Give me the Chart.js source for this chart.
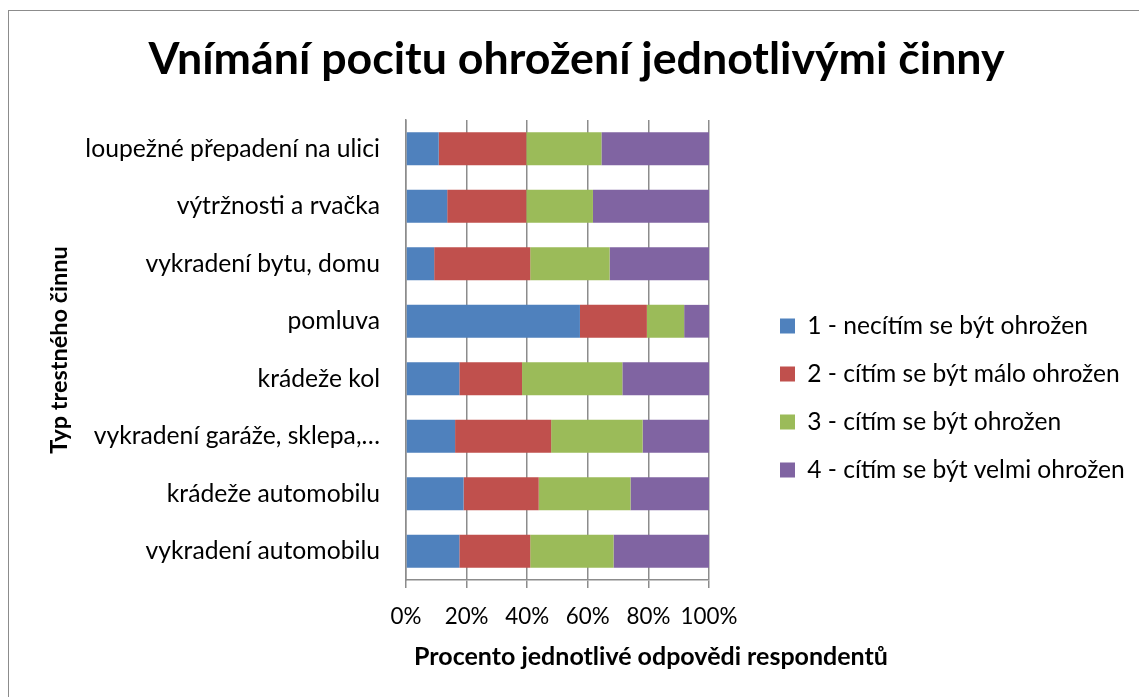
<!DOCTYPE html>
<html><head><meta charset="utf-8">
<script src="https://cdn.jsdelivr.net/npm/chart.js@4.4.1/dist/chart.umd.min.js"></script>
<style>
html,body{margin:0;padding:0;background:#fff;overflow:hidden;width:1139px;height:697px}
#frame{position:absolute;left:8px;top:10px;width:1200px;height:800px;border:1px solid #8c8c8c}
#wrap{position:absolute;left:0;top:0;width:1139px;height:697px}
</style></head><body>
<div id="frame"></div>
<div id="wrap"><canvas id="c" width="1139" height="697"></canvas></div>
<script>
const categories = [
  'loupežné přepadení na ulici',
  'výtržnosti a rvačka',
  'vykradení bytu, domu',
  'pomluva',
  'krádeže kol',
  'vykradení garáže, sklepa,…',
  'krádeže automobilu',
  'vykradení automobilu'
];
const seriesNames = [
  '1 - necítím se být ohrožen',
  '2 - cítím se být málo ohrožen',
  '3 - cítím se být ohrožen',
  '4 - cítím se být velmi ohrožen'
];
const level1 = [10.8, 13.6, 9.3, 57.4, 17.6, 16.2, 19.0, 17.6];
const level2 = [28.9, 26.1, 31.7, 22.1, 20.7, 31.7, 24.8, 23.4];
const level3 = [24.8, 22.0, 26.2, 12.3, 33.1, 30.2, 30.3, 27.5];
const level4 = [35.5, 38.3, 32.8, 8.2, 28.6, 21.9, 25.9, 31.5];
const xTicks = ['0%', '20%', '40%', '60%', '80%', '100%'];
const chartTitle = 'Vnímání pocitu ohrožení jednotlivými činny';
const xTitle = 'Procento jednotlivé odpovědi respondentů';
const yTitle = 'Typ trestného činnu';

const colors = ['#4F81BD', '#C0504D', '#9BBB59', '#8064A2'];
const seriesData = [level1, level2, level3, level4];

const FONT = 'Lato';
const TS = 44.7, LS = 24.6, TK = 24.7, XT = 22.4, AX = 25, AY = 23.5;
const X_TITLE_CENTER = 651;

const layoutTweaks = {
  id: 'layoutTweaks',
  afterInit(chart) {
    const lg = chart.legend;
    const f = lg.fit;
    lg.fit = function () { f.call(this); this.width = 430; };
  },
  afterLayout(chart) {
    const lg = chart.legend;
    const pad = lg.options.labels.padding;
    lg.left = 780 - pad; lg.right = chart.width;
    lg.top = 326 - pad - LS / 2; lg.bottom = chart.height;
    const sx = chart.scales.x;
    if (sx && !sx._titleWrapped) {
      const orig = sx.drawTitle;
      sx.drawTitle = function () {
        const l = this.left, r = this.right;
        this.left = X_TITLE_CENTER - 270; this.right = X_TITLE_CENTER + 270;
        orig.call(this);
        this.left = l; this.right = r;
      };
      sx._titleWrapped = true;
    }
  }
};

new Chart(document.getElementById('c'), {
  type: 'bar',
  data: {
    labels: categories,
    datasets: seriesNames.map((n, i) => ({
      label: n, data: seriesData[i], backgroundColor: colors[i],
      borderWidth: 0, barPercentage: 0.57, categoryPercentage: 1
    }))
  },
  options: {
    indexAxis: 'y', responsive: false, animation: false, devicePixelRatio: 1,
    layout: { padding: { left: 14, right: 0, top: 0, bottom: 0 } },
    plugins: {
      title: { display: true, text: chartTitle, color: '#000',
        font: { family: FONT, size: TS, weight: 'bold', lineHeight: 1.2 },
        padding: { top: 60 - 0.6 * TS, bottom: 60 - 0.6 * TS } },
      legend: { position: 'right', align: 'start',
        labels: { font: { family: FONT, size: LS }, color: '#000', boxWidth: 15, boxHeight: 15, padding: 48 - LS } },
      tooltip: { enabled: false }
    },
    scales: {
      x: { stacked: true, min: 0, max: 100,
        ticks: { stepSize: 20, autoSkip: false, maxRotation: 0, padding: 15, color: '#000',
          font: { family: FONT, size: XT }, callback: (v, i) => xTicks[i] },
        grid: { color: '#8c8c8c', lineWidth: 1.5, tickLength: 8, drawTicks: true },
        border: { display: true, color: '#8c8c8c', width: 1.5 },
        title: { display: true, text: xTitle, color: '#000', font: { family: FONT, size: AX, weight: 'bold', lineHeight: 1.2 },
          padding: { top: 0, bottom: 40 - 0.6 * AX } },
        afterFit: s => { s.height = 117; }
      },
      y: { stacked: true,
        ticks: { autoSkip: false, padding: 26, color: '#000', font: { family: FONT, size: TK } },
        grid: { display: false, drawTicks: false, tickLength: 0 },
        border: { display: true, color: '#8c8c8c', width: 1.5 },
        title: { display: true, text: yTitle, color: '#000', font: { family: FONT, size: AY, weight: 'bold', lineHeight: 1.2 },
          padding: { top: 45 - 0.6 * AY, bottom: 0 } },
        afterFit: s => { s.width = 392; }
      }
    }
  },
  plugins: [layoutTweaks]
});
</script>
</body></html>
